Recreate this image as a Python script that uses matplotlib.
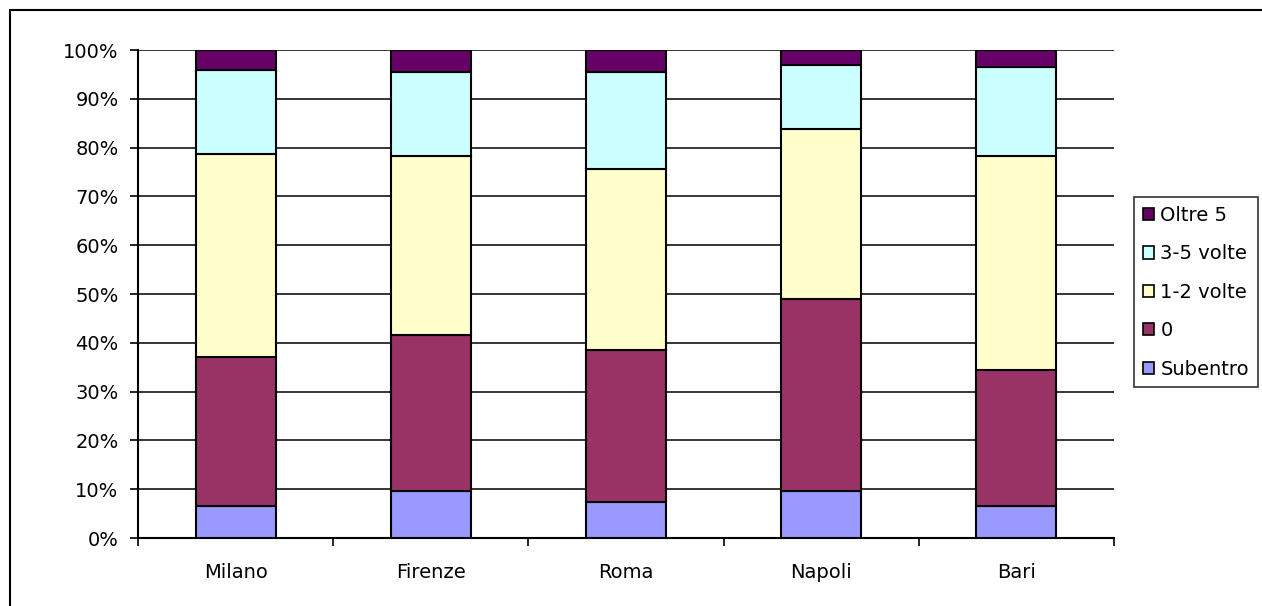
import matplotlib
matplotlib.use("Agg")
import matplotlib.pyplot as plt
from matplotlib.patches import Rectangle, Patch
import numpy as np

cities = ["Milano", "Firenze", "Roma", "Napoli", "Bari"]
series_names = ["Subentro", "0", "1-2 volte", "3-5 volte", "Oltre 5"]
subentro = [6.6, 9.7, 7.4, 9.7, 6.6]
zero = [30.4, 31.8, 31.1, 39.3, 27.8]
uno_due = [41.6, 36.7, 37.2, 34.9, 43.8]
tre_cinque = [17.2, 17.2, 19.7, 13.1, 18.4]
oltre5 = [4.2, 4.6, 4.6, 3.0, 3.4]
colors = ["#9999FF", "#993366", "#FFFFCC", "#CCFFFF", "#660066"]
yticklabels = ["0%", "10%", "20%", "30%", "40%", "50%", "60%", "70%", "80%", "90%", "100%"]

W, H = 1262, 606
fig = plt.figure(figsize=(W / 100, H / 100), dpi=100)
fig.patch.set_facecolor("white")

# outer chart border
fig.patches.append(Rectangle((10 / W, -0.1), 2.0, 1.1 - 10 / H,
                             transform=fig.transFigure, fill=False,
                             edgecolor="black", linewidth=1.5, zorder=0))

ax = fig.add_axes([138 / W, (H - 538) / H, 976 / W, 488 / H])
ax.set_facecolor("white")

data = [subentro, zero, uno_due, tre_cinque, oltre5]
totals = np.sum(np.array(data), axis=0)
x = np.arange(len(cities))
bottom = np.zeros(len(cities))
handles = []
for name, vals, c in zip(series_names, data, colors):
    v = np.array(vals) / totals * 100
    ax.bar(x, v, width=0.41, bottom=bottom, color=c, edgecolor="black",
           linewidth=1.5, zorder=3)
    bottom += v
    handles.append(Patch(facecolor=c, edgecolor="black", linewidth=1.2, label=name))

ax.set_xlim(-0.5, len(cities) - 0.5)
ax.set_ylim(0, 100)
ax.set_yticks(np.arange(0, 101, 10))
ax.set_yticklabels(yticklabels)
ax.yaxis.grid(True, color="black", linewidth=1.1, zorder=0)
ax.set_axisbelow(True)

ax.set_xticks(x)
ax.set_xticklabels(cities)
ax.set_xticks(np.arange(-0.5, len(cities), 1.0), minor=True)
ax.tick_params(axis="x", which="major", length=0, pad=18, labelsize=14)
ax.tick_params(axis="x", which="minor", length=6, width=1.2, direction="out")
ax.tick_params(axis="y", length=6, width=1.2, direction="out", pad=8, labelsize=14)

for s in ["top", "right"]:
    ax.spines[s].set_visible(False)
for s in ["left", "bottom"]:
    ax.spines[s].set_linewidth(1.5)
    ax.spines[s].set_color("black")

for lab in ax.get_xticklabels() + ax.get_yticklabels():
    lab.set_fontfamily("DejaVu Sans")

leg = fig.legend(handles=handles[::-1], loc="upper left",
                 bbox_to_anchor=(1134 / W, 1 - 197 / H),
                 frameon=True, fancybox=False, edgecolor="black",
                 prop={"family": "DejaVu Sans", "size": 14},
                 handlelength=0.6, handleheight=0.6, handletextpad=0.3,
                 labelspacing=1.0, borderpad=0.45, borderaxespad=0)
leg.get_frame().set_linewidth(1.2)

fig.savefig("out.png", dpi=100, facecolor="white")
